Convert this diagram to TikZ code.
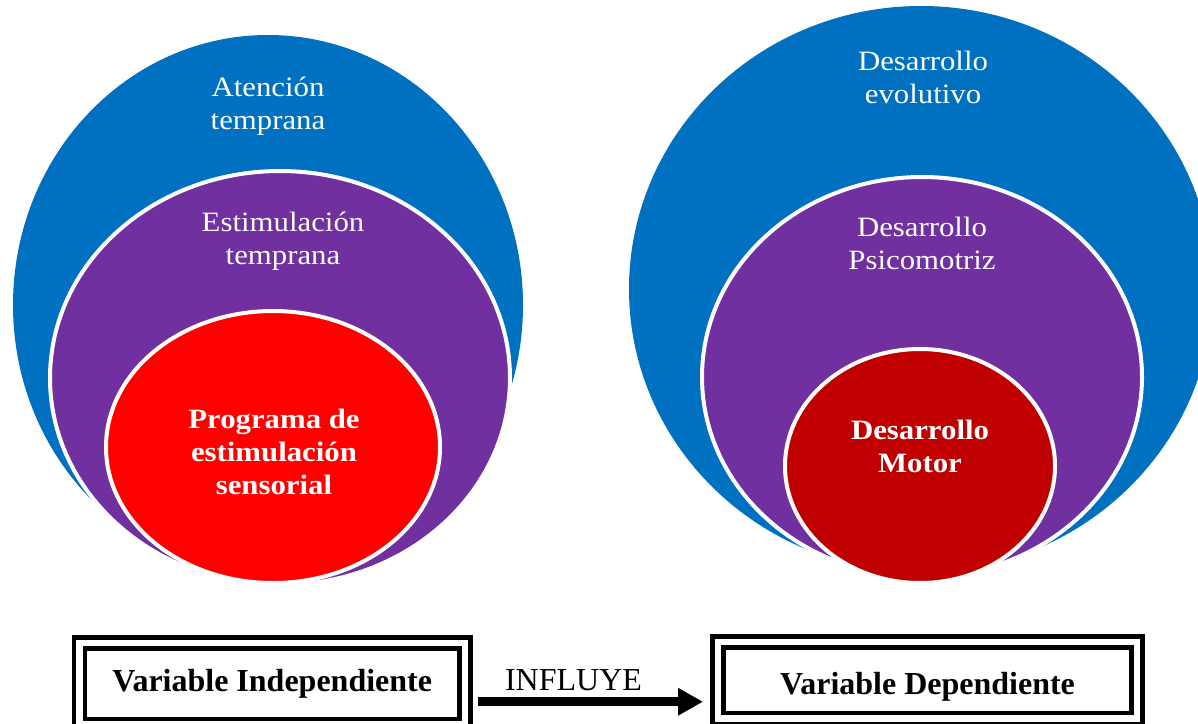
\documentclass[tikz,border=0pt]{standalone}
\usepackage{fontspec}
\setmainfont{Liberation Serif}
\newfontfamily\ringfont[FakeStretch=1.1]{Liberation Serif}
\usetikzlibrary{shapes.geometric,arrows.meta}
\definecolor{ringblue}{HTML}{0070C0}
\definecolor{ringpurple}{HTML}{7030A0}
\definecolor{ringred}{HTML}{FF0000}
\definecolor{ringdarkred}{HTML}{C00000}
\begin{document}
\begin{tikzpicture}[x=1pt, y=-1pt,
  ring/.style={ellipse, inner sep=0pt, draw=white, line width=4pt},
  ringtext/.style={text=white, align=center, inner sep=0pt, font=\ringfont\fontsize{28}{33}\selectfont},
  varbox/.style={draw, line width=4.5pt, double, double distance=6.5pt, outer sep=0pt, font=\bfseries\fontsize{32}{38}\selectfont}]
  \useasboundingbox (0,0) rectangle (1198,723);
  \clip (0,0) rectangle (1198,723);
  % left rings
  \node [ring, draw=none, fill=ringblue, minimum width=510pt, minimum height=540pt] (aten) at (268,305) {};
  \node [ring, fill=ringpurple, minimum width=460pt, minimum height=414pt] (estim) at (280,378) {};
  \node [ring, fill=ringred, minimum width=334pt, minimum height=272pt] (prog) at (273,447) {};
  \node [ringtext] (aten-t) at (268,106) {Atención\\temprana};
  \node [ringtext] (estim-t) at (283,241) {Estimulación\\temprana};
  \node [ringtext, font=\ringfont\bfseries\fontsize{28}{33}\selectfont] (prog-t) at (274,452) {Programa de\\estimulación\\sensorial};
  % right rings
  \node [ring, draw=none, fill=ringblue, minimum width=584pt, minimum height=566pt] (evol) at (921,289) {};
  \node [ring, fill=ringpurple, minimum width=440pt, minimum height=400pt] (psico) at (922,377) {};
  \node [ring, fill=ringdarkred, minimum width=270pt, minimum height=234pt] (motor) at (920,466) {};
  \node [ringtext] (evol-t) at (923,77) {Desarrollo\\evolutivo};
  \node [ringtext] (psico-t) at (922,243) {Desarrollo\\Psicomotriz};
  \node [ringtext, font=\ringfont\bfseries\fontsize{28}{33}\selectfont] (motor-t) at (920,446) {Desarrollo\\Motor};
  % variables
  \node [varbox, text height=22pt, text depth=6.5pt, minimum width=385.6pt, minimum height=81.5pt] (indep) at (272.2,683.75) {Variable Independiente};
  \node [varbox, text height=28pt, text depth=0pt, minimum width=419pt, minimum height=76.5pt] (dep) at (927.5,680) {Variable Dependiente};
  \draw [line width=9pt, -{Triangle[length=25pt,width=26pt]}, shorten <=13pt, shorten >=15pt]
    ([yshift=-18pt]indep.east) -- ([yshift=-18pt]indep.east -| dep.west)
    node [midway, above=4pt, xshift=-18pt, inner sep=2pt, font=\fontsize{32}{38}\selectfont] (influ) {INFLUYE};
\end{tikzpicture}
\end{document}
